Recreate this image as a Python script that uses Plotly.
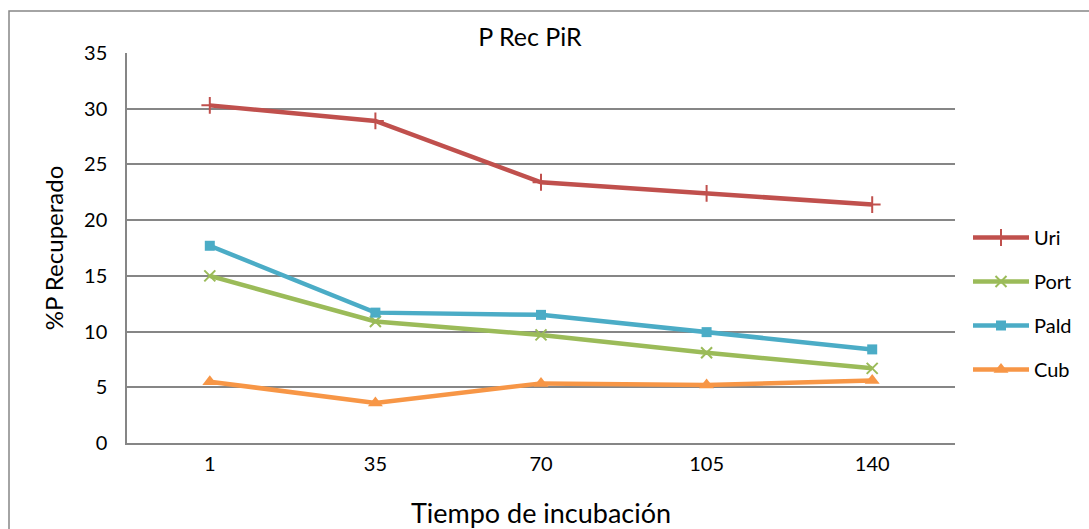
import plotly.graph_objects as go

# Incubation times (categories) and % P recovered per soil
tiempos = ["1", "35", "70", "105", "140"]
uri = [30.3, 28.9, 23.4, 22.4, 21.4]
port = [15.0, 10.9, 9.7, 8.1, 6.7]
pald = [17.7, 11.7, 11.5, 9.95, 8.4]
cub = [5.5, 3.6, 5.35, 5.2, 5.6]

FONT = "Lato, 'Open Sans', sans-serif"

series = [
    ("Uri", uri, "#C0504D", dict(symbol="cross-thin", size=12, line=dict(width=2, color="#C0504D"))),
    ("Port", port, "#9BBB59", dict(symbol="x-thin", size=11, line=dict(width=2, color="#9BBB59"))),
    ("Pald", pald, "#4BACC6", dict(symbol="square", size=10, color="#4BACC6")),
    ("Cub", cub, "#F79646", dict(symbol="triangle-up", size=13, color="#F79646")),
]

fig = go.Figure()
for name, vals, color, marker in series:
    fig.add_trace(go.Scatter(
        x=tiempos, y=vals, name=name, legendgroup=name, mode="lines+markers",
        line=dict(color=color, width=4.5),
        marker=marker,
    ))

W, H = 1089, 529
L, R, T, B = 127, 134, 53, 86
pw, ph = W - L - R, H - T - B

fig.update_layout(
    width=W, height=H,
    margin=dict(l=L, r=R, t=T, b=B),
    paper_bgcolor="white", plot_bgcolor="white",
    font=dict(family=FONT, size=20, color="black"),
    title=dict(text="P Rec PiR", x=(530 - L) / pw, xref="paper", xanchor="center",
               y=1 - 37 / H, yanchor="middle", font=dict(size=25, family=FONT)),
    xaxis=dict(
        type="category", range=[-0.5, 4.5], showgrid=False, showline=True,
        linecolor="#868686", linewidth=1.5, automargin=False,
        ticks="", tickfont=dict(size=20), mirror=False, ticklabelstandoff=2,
        title=dict(text="Tiempo de incubación", font=dict(size=27), standoff=30),
    ),
    yaxis=dict(
        range=[0, 35], dtick=5, showgrid=True, gridcolor="#868686", gridwidth=1.5,
        showline=True, linecolor="#868686", linewidth=1.5, zeroline=False,
        automargin=False,
        ticks="", tickfont=dict(size=20), ticklabelstandoff=14,
        title=dict(text="%P Recuperado", font=dict(size=24), standoff=14),
    ),
    legend=dict(
        x=(968 - L) / pw, xanchor="left", y=1 - (236 - T - 18) / ph, yanchor="top",
        font=dict(size=20), tracegroupgap=15, traceorder="grouped", itemwidth=56,
        bgcolor="rgba(0,0,0,0)",
    ),
    shapes=[dict(
        type="rect", xref="paper", yref="paper",
        x0=(9 - L) / pw, x1=1.3, y0=-0.4, y1=1 + (T - 11) / ph,
        line=dict(color="#868686", width=1.5), fillcolor="rgba(0,0,0,0)", layer="below",
    )],
)

fig.write_html("out.html")
